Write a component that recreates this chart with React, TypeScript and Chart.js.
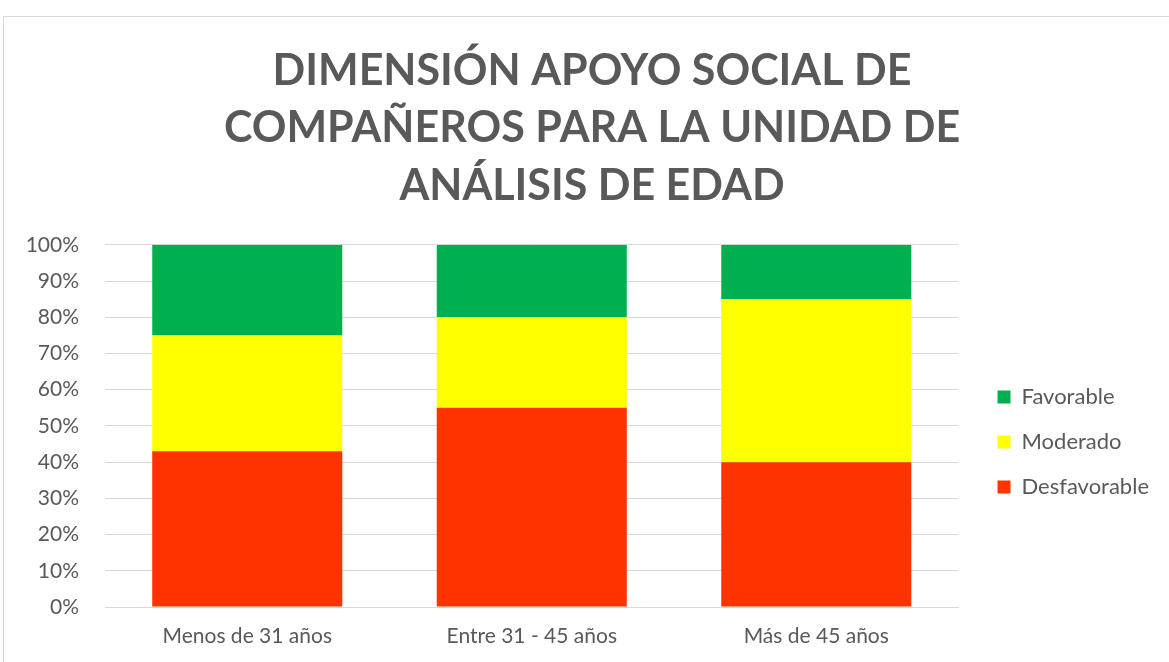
import React, { useEffect, useRef } from "react";
import { Chart, registerables } from "chart.js";

Chart.register(...registerables);

const titleLines = ["DIMENSIÓN APOYO SOCIAL DE", "COMPAÑEROS PARA LA UNIDAD DE", "ANÁLISIS DE EDAD"];
const categories = ["Menos de 31 años", "Entre 31 - 45 años", "Más de 45 años"];
const desfavorable = [43, 55, 40];
const moderado = [32, 25, 45];
const favorable = [25, 20, 15];
const yTicks = [0, 10, 20, 30, 40, 50, 60, 70, 80, 90, 100];

const TEXT = "#595959";
const FONT = "Lato, 'Open Sans', sans-serif";

const legendShift = {
  id: "legendShift",
  afterLayout(chart: any) {
    const lg = chart.legend;
    if (!lg) return;
    const dx = chart.chartArea.right + 16 - lg.left;
    lg.left += dx;
    lg.right += dx;
    const ca = chart.chartArea;
    const dy = (ca.top + ca.bottom) / 2 + 16 - (lg.top + lg.bottom) / 2;
    lg.top += dy;
    lg.bottom += dy;
  },
};

export default function App() {
  const ref = useRef<HTMLCanvasElement>(null);
  useEffect(() => {
    if (!ref.current) return;
    const chart = new Chart(ref.current, {
      type: "bar",
      data: {
        labels: categories,
        datasets: [
          { label: "Desfavorable", data: desfavorable, backgroundColor: "#FF3300" },
          { label: "Moderado", data: moderado, backgroundColor: "#FFFF00" },
          { label: "Favorable", data: favorable, backgroundColor: "#00B050" },
        ],
      },
      options: {
        responsive: false,
        maintainAspectRatio: false,
        animation: false,
        datasets: { bar: { categoryPercentage: 1, barPercentage: 0.668, borderWidth: 0 } },
        layout: { padding: { top: 0, left: 0, right: -15, bottom: 0 } },
        plugins: {
          title: {
            display: true,
            text: titleLines,
            color: TEXT,
            font: { family: FONT, size: 43, weight: "bold", lineHeight: 1.34 },
            padding: { top: 42, bottom: 30 },
          },
          legend: {
            position: "right",
            reverse: true,
            labels: {
              color: TEXT,
              font: { family: FONT, size: 22 },
              boxWidth: 13,
              boxHeight: 13,
              padding: 23,
            },
          },
          tooltip: { enabled: false },
        },
        scales: {
          x: {
            stacked: true,
            grid: { display: false, drawTicks: false },
            border: { display: true, color: "#d9d9d9" },
            ticks: { color: TEXT, font: { family: FONT, size: 21 }, padding: 17 },
            afterFit: (s: any) => { s.height = 55; },
          },
          y: {
            stacked: true,
            min: 0,
            max: 100,
            afterBuildTicks: (s: any) => { s.ticks = yTicks.map((v) => ({ value: v })); },
            grid: { color: "#d9d9d9", drawTicks: false },
            border: { display: false },
            ticks: {
              color: TEXT,
              font: { family: FONT, size: 21 },
              padding: 26,
              callback: (v: any) => v + "%",
            },
            afterFit: (s: any) => { s.width = 105; },
          },
          gap: {
            type: "linear",
            position: "right",
            display: true,
            grid: { display: false, drawTicks: false },
            border: { display: false },
            ticks: { display: false },
            afterFit: (s: any) => { s.width = 41; },
          },
        },
      },
      plugins: [legendShift],
    });
    return () => chart.destroy();
  }, []);

  return (
    <div style={{ position: "absolute", left: 0, top: 0, width: 1169, height: 662, overflow: "hidden", background: "#fff" }}>
      <div style={{ position: "absolute", left: 3, top: 16, width: 1300, height: 800, border: "1px solid #d9d9d9" }} />
      <canvas ref={ref} width={1169} height={662} style={{ position: "absolute", left: 0, top: 0 }} />
    </div>
  );
}
